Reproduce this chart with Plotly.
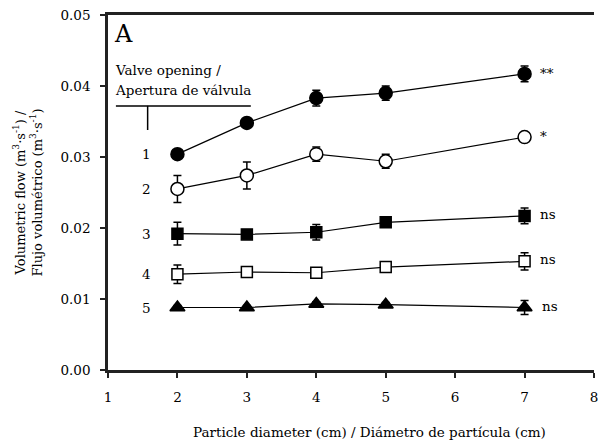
import plotly.graph_objects as go

diam = [2, 3, 4, 5, 7]
flow1 = [0.0304, 0.0348, 0.0383, 0.0390, 0.0417]
err1 = [0.0003, 0.0004, 0.0011, 0.0010, 0.0011]
flow2 = [0.0255, 0.0274, 0.0304, 0.0294, 0.0328]
err2 = [0.0019, 0.0019, 0.0010, 0.0010, 0.0003]
flow3 = [0.0192, 0.0191, 0.0194, 0.0208, 0.0217]
err3 = [0.0016, 0.0006, 0.0011, 0.0004, 0.0011]
flow4 = [0.0135, 0.0138, 0.0137, 0.0145, 0.0153]
err4 = [0.0013, 0.0003, 0.0003, 0.0003, 0.0012]
flow5 = [0.0088, 0.0088, 0.0093, 0.0092, 0.0088]
err5 = [0.0003, 0.0003, 0.0003, 0.0003, 0.0010]
labels = ["1", "2", "3", "4", "5"]
signif = ["**", "*", "ns", "ns", "ns"]
x_ticks = [1, 2, 3, 4, 5, 6, 7, 8]
y_ticks = [0.00, 0.01, 0.02, 0.03, 0.04, 0.05]

FONT = "DejaVu Serif"
series = [
    (flow1, err1, "circle", "black", 13),
    (flow2, err2, "circle", "white", 13),
    (flow3, err3, "square", "black", 11),
    (flow4, err4, "square", "white", 11),
    (flow5, err5, "triangle-up", "black", 13),
]

fig = go.Figure()
for i, (y, e, sym, fill, sz) in enumerate(series):
    fig.add_trace(go.Scatter(
        x=diam, y=y, mode="lines+markers",
        line=dict(color="black", width=1.2),
        marker=dict(symbol=sym, size=sz, color=fill, line=dict(color="black", width=1.5)),
        error_y=dict(type="data", array=e, visible=True, color="black", thickness=1.5, width=4),
        showlegend=False, cliponaxis=False,
    ))

ann = []
for i, (y, e, sym, fill, sz) in enumerate(series):
    ann.append(dict(x=1.56, y=y[0], text=labels[i], showarrow=False, xref="x", yref="y",
                    font=dict(family=FONT, size=13.5, color="black")))
    ann.append(dict(x=diam[-1], y=y[-1], text=signif[i], showarrow=False, xref="x", yref="y",
                    xanchor="left", xshift=13 if i != 4 else 15,
                    yshift=1 if signif[i] != "ns" else 2,
                    font=dict(family=FONT, size=13.5, color="black")))

ann.append(dict(x=0, y=1, xref="paper", yref="paper", text="A", showarrow=False,
                xanchor="left", yanchor="top", xshift=4, yshift=-3,
                font=dict(family=FONT, size=24, color="black")))
ann.append(dict(x=0, y=1, xref="paper", yref="paper", text="Valve opening /", showarrow=False,
                xanchor="left", yanchor="middle", xshift=5, yshift=-55,
                font=dict(family=FONT, size=13.5, color="black")))
ann.append(dict(x=0, y=1, xref="paper", yref="paper", text="Apertura de válvula", showarrow=False,
                xanchor="left", yanchor="middle", xshift=5, yshift=-75,
                font=dict(family=FONT, size=13.5, color="black")))
ann.append(dict(x=0, y=0.5, xref="paper", yref="paper",
                text="Volumetric flow (m<sup>3</sup>·s<sup>-1</sup>) /<br>Flujo volumétrico (m<sup>3</sup>·s<sup>-1</sup>)",
                showarrow=False, textangle=-90, xanchor="center", yanchor="middle", xshift=-80,
                font=dict(family=FONT, size=13, color="black")))
ann.append(dict(x=4.76, y=0, xref="x", yref="paper",
                text="Particle diameter (cm) / Diámetro de partícula (cm)",
                showarrow=False, xanchor="center", yanchor="middle", yshift=-62,
                font=dict(family=FONT, size=13.5, color="black")))

shapes = [
    dict(type="line", xref="x", yref="y", x0=1.114, x1=3.057, y0=0.0372, y1=0.0372,
         line=dict(color="black", width=1.5)),
    dict(type="line", xref="x", yref="y", x0=1.571, x1=1.571, y0=0.0372, y1=0.0338,
         line=dict(color="black", width=1.5)),
]

fig.update_layout(
    width=598, height=445,
    margin=dict(l=108, r=0, t=15, b=75),
    plot_bgcolor="white", paper_bgcolor="white",
    font=dict(family=FONT, size=13.5, color="black"),
    annotations=ann, shapes=shapes,
    xaxis=dict(range=[1, 8], tickvals=x_ticks, showline=True, linecolor="#222", linewidth=2.5,
               mirror=True, ticks="outside", ticklen=5, tickwidth=2, tickcolor="#222",
               showgrid=False, zeroline=False, ticklabelstandoff=8, ticklabeloverflow="allow"),
    yaxis=dict(range=[0, 0.05], tickvals=y_ticks, tickformat=".2f", showline=True, linecolor="#222",
               linewidth=2.5, ticks="outside", ticklen=5, tickwidth=2, tickcolor="#222",
               showgrid=False, zeroline=False, ticklabelstandoff=7),
)

fig.write_html("out.html")
